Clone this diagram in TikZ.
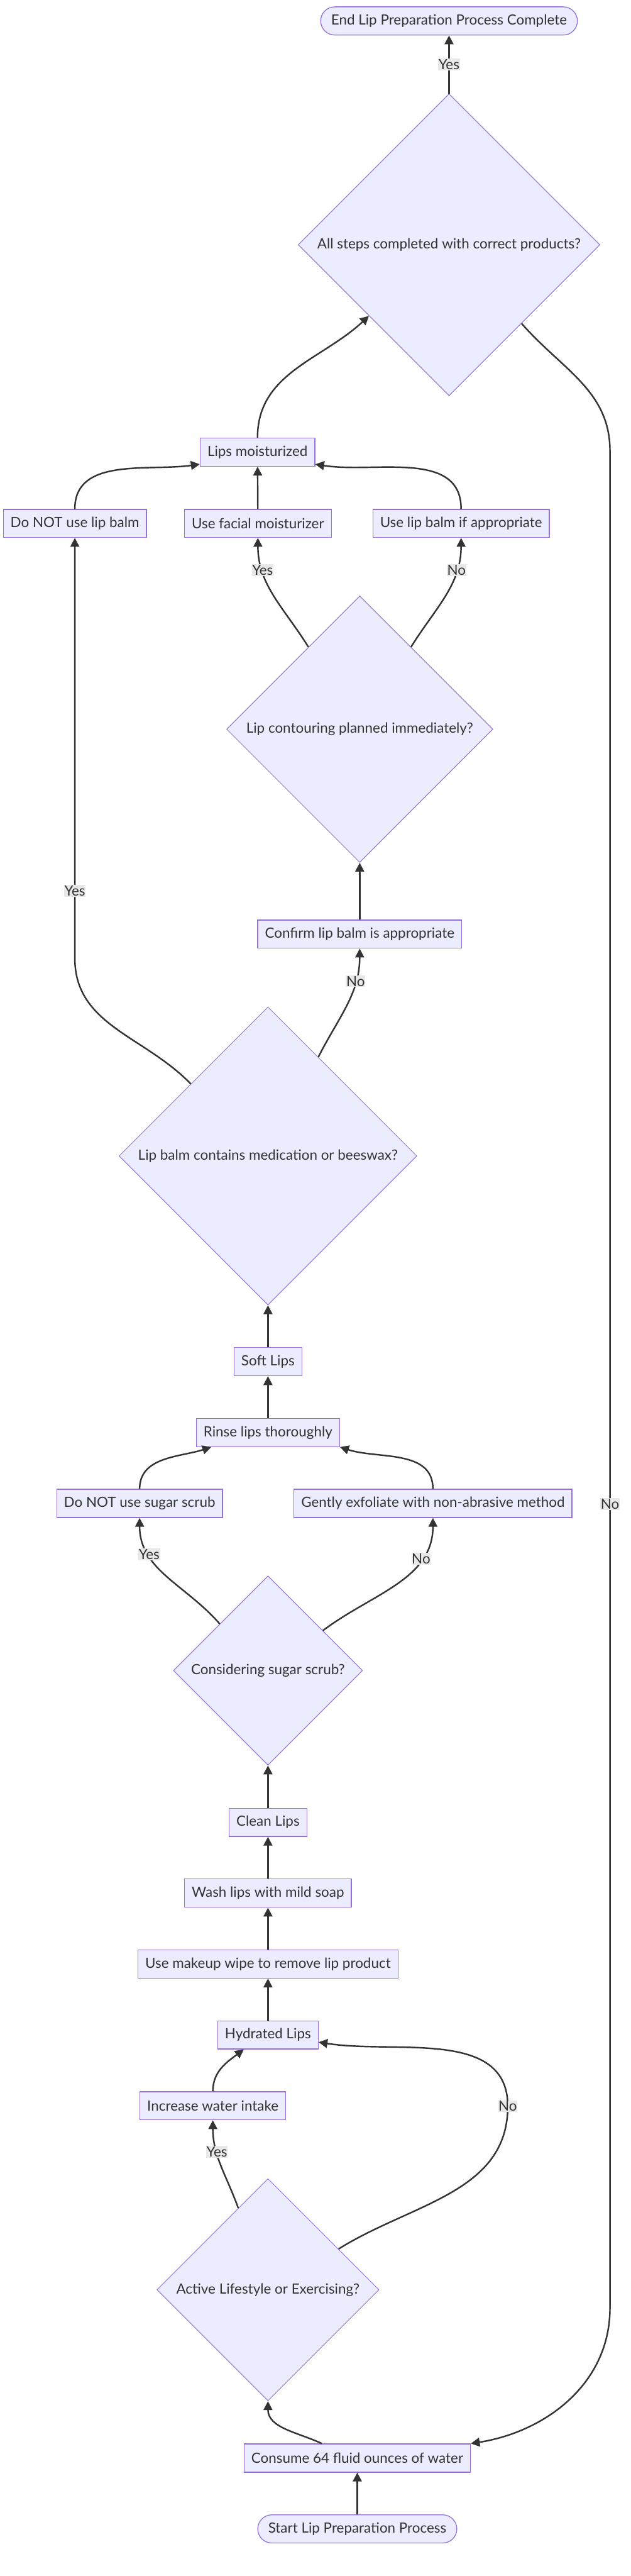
\documentclass[tikz,border=0pt]{standalone}
\usepackage{fontspec}
\setmainfont{Lato}
\usetikzlibrary{shapes.geometric,arrows.meta,calc}
\definecolor{nodefill}{HTML}{ECECFF}
\definecolor{nodeline}{HTML}{9370DB}
\definecolor{edgeline}{HTML}{333333}
\definecolor{lblfill}{HTML}{E8E8E8}
\newcommand{\flowfont}{\fontsize{17.5}{20}\selectfont}
\tikzset{
  proc/.style={draw=nodeline, fill=nodefill, line width=1pt, text=edgeline,
    minimum height=35pt, inner xsep=9pt, font=\flowfont},
  term/.style={proc, rounded corners=17.5pt, inner xsep=13pt},
  decision/.style={diamond, draw=nodeline, fill=nodefill, line width=0.8pt,
    text=edgeline, inner sep=0pt, font=\flowfont},
  flow/.style={draw=edgeline, line width=1.9pt, -{Triangle[length=11pt,width=11pt]}},
  lbl/.style={fill=lblfill, text=edgeline, inner xsep=0.5pt, inner ysep=1pt, font=\flowfont}
}

\begin{document}
\begin{tikzpicture}[x=1pt,y=1pt]
\useasboundingbox (0,0) rectangle (784,-3199);
% nodes, top to bottom
\node[term] (endn) at (558,-26) {End Lip Preparation Process Complete};
\node[decision, minimum size=375pt] (chk) at (558,-304) {All steps completed with correct products?};
\node[proc] (moist) at (320,-561.5) {Lips moisturized};
\node[proc] (nobalm) at (93,-650) {Do NOT use lip balm};
\node[proc] (facial) at (320.5,-650) {Use facial moisturizer};
\node[proc] (balmok) at (573,-650) {Use lip balm if appropriate};
\node[decision, minimum size=331pt] (contour) at (447,-905.5) {Lip contouring planned immediately?};
\node[proc] (confirm) at (447,-1160) {Confirm lip balm is appropriate};
\node[decision, minimum size=370pt] (balm) at (333,-1435.5) {Lip balm contains medication or beeswax?};
\node[proc] (soft) at (333,-1691) {Soft Lips};
\node[proc] (rinse) at (333,-1779) {Rinse lips thoroughly};
\node[proc] (nosugar) at (173.5,-1867) {Do NOT use sugar scrub};
\node[proc] (exfol) at (538,-1867) {Gently exfoliate with non-abrasive method};
\node[decision, minimum size=235pt] (sugar) at (333,-2074.5) {Considering sugar scrub?};
\node[proc] (clean) at (333,-2263) {Clean Lips};
\node[proc] (wash) at (333,-2351) {Wash lips with mild soap};
\node[proc] (wipe) at (333,-2439) {Use makeup wipe to remove lip product};
\node[proc] (hydr) at (333,-2527) {Hydrated Lips};
\node[proc] (water) at (264.5,-2615) {Increase water intake};
\node[decision, minimum size=276pt] (active) at (333,-2843.5) {Active Lifestyle or Exercising?};
\node[proc] (consume) at (444,-3052.5) {Consume 64 fluid ounces of water};
\node[term] (start) at (444,-3140.5) {Start Lip Preparation Process};
% bends
\coordinate (nobend) at (631,-2615.5);
\coordinate (yesturn) at (93,-1190);
\coordinate (rtop) at (758,-560);
\coordinate (rbot) at (758,-2866);
% hydration
\draw[flow] (start) -- (consume);
\draw[flow] ([xshift=-44pt]consume.north) to[out=155,in=-90] (active.south);
\draw[flow] (active.110) to[out=110,in=-90] node[lbl,pos=0.66] {Yes} (water.south);
\draw[flow] (active.30) to[out=32,in=-90] (nobend)
  to[out=90,in=-9] node[lbl,pos=0] {No} ([yshift=-9pt]hydr.east);
\draw[flow] (water.north) to[out=90,in=217] ([xshift=-30pt]hydr.south);
% cleaning
\draw[flow] (hydr) -- (wipe);
\draw[flow] (wipe) -- (wash);
\draw[flow] (wash) -- (clean);
\draw[flow] (clean) -- (sugar);
% exfoliation
\draw[flow] (sugar.136) to[out=131,in=-90] node[lbl,pos=0.72] {Yes} (nosugar.south);
\draw[flow] (sugar.36) to[out=37,in=-90] node[lbl,pos=0.73] {No} (exfol.south);
\draw[flow] (nosugar.north) to[out=90,in=198] ([xshift=-70.5pt]rinse.south);
\draw[flow] (exfol.north) to[out=90,in=-18] (rinse.south east);
\draw[flow] (rinse) -- (soft);
\draw[flow] (soft) -- (balm);
% moisturizing
\draw[flow] (balm.137) to[out=134,in=-90] (yesturn)
  -- node[lbl,pos=0.16] {Yes} (nobalm.south);
\draw[flow] (balm.63) to[out=63,in=-90] node[lbl,pos=0.73] {No} (confirm.south);
\draw[flow] (confirm) -- (contour);
\draw[flow] (contour.122) to[out=122,in=-90] node[lbl,pos=0.74] {Yes} (facial.south);
\draw[flow] (contour.58) to[out=58,in=-90] node[lbl,pos=0.74] {No} (balmok.south);
\draw[flow] (nobalm.north) to[out=90,in=188] ([yshift=-15pt]moist.west);
\draw[flow] (facial) -- (moist);
\draw[flow] (balmok.north) to[out=90,in=-9] ([yshift=-15pt]moist.east);
% final check
\draw[flow] (moist.north) to[out=90,in=223] ($(chk.west)!0.47!(chk.south)$);
\draw[flow] (chk) -- node[lbl] {Yes} (endn);
\draw[flow] ($(chk.south)!0.48!(chk.east)$) to[out=-49,in=90] (rtop)
  -- node[lbl,pos=0.567] {No} (rbot) to[out=-90,in=9] (consume.north east);
\end{tikzpicture}
\end{document}
